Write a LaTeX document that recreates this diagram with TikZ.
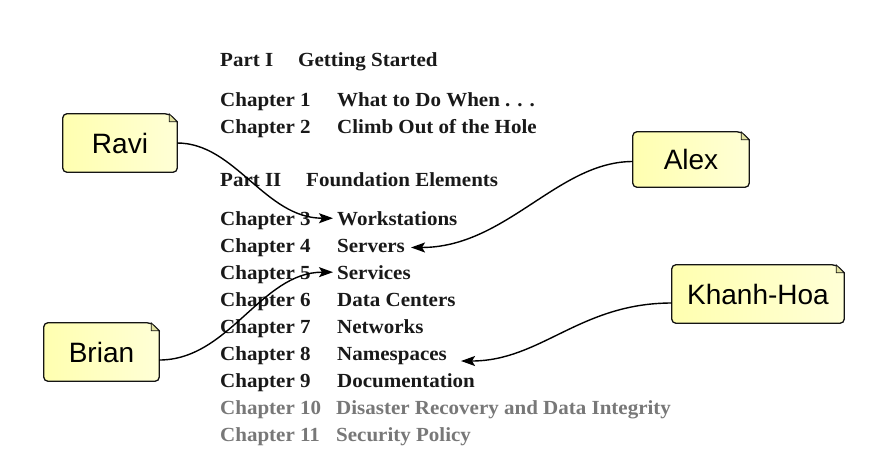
\documentclass[tikz,border=0pt]{standalone}
\usepackage{fontspec}
\setmainfont{Liberation Serif}
\newfontfamily\tocfont[FakeStretch=1.05]{Liberation Serif}
\newfontfamily\notefont{Liberation Sans}
\usetikzlibrary{arrows.meta}
\pgfdeclarelayer{background}
\pgfdeclarelayer{canvas}
\pgfsetlayers{canvas,background,main}
\definecolor{notefillA}{RGB}{255,255,176}
\definecolor{notefillB}{RGB}{255,255,214}
\definecolor{notefold}{RGB}{225,225,160}
\definecolor{notedraw}{RGB}{20,20,20}
\definecolor{tocink}{RGB}{25,25,25}
\definecolor{blurink}{RGB}{120,120,120}
\tikzset{
  toc/.style={anchor=base west, inner sep=0pt, font=\tocfont\bfseries\fontsize{20}{20}\selectfont, text=tocink},
  tocblur/.style={toc, text=blurink},
  notetext/.style={inner sep=0pt, font=\notefont\fontsize{28}{28}\selectfont},
  notebody/.style={line width=1.3pt, draw=notedraw, left color=notefillA, right color=notefillB},
  notecorner/.style={line width=0.8pt, draw=notedraw, fill=notefold},
  arr/.style={line width=1.4pt, draw=black, -{Stealth[length=14pt,width=10pt,inset=3pt]}},
}
\newcommand\stickynote[1]{%
  \begin{pgfonlayer}{background}
  \draw[notebody, rounded corners=4pt]
    (#1.west) -- (#1.north west) -- ([xshift=-8pt]#1.north east)
    [sharp corners] -- ([yshift=-8pt]#1.north east)
    [rounded corners=4pt] -- (#1.south east) -- (#1.south west) -- cycle;
  \draw[notecorner] ([xshift=-8pt]#1.north east) -- ([xshift=-8pt,yshift=-8pt]#1.north east) -- ([yshift=-8pt]#1.north east) -- cycle;
  \end{pgfonlayer}%
}
\begin{document}
\begin{tikzpicture}[x=1pt,y=-1pt]
\begin{pgfonlayer}{canvas}
\fill[white] (0,0) rectangle (875,475);
\end{pgfonlayer}
\useasboundingbox (0,0) rectangle (875,475);

% table of contents
\node[toc] (p1) at (220,66) {Part I};
\node[toc] (pt1) at (298,66) {Getting Started};
\node[toc] (c1) at (220,106) {Chapter 1};
\node[toc] (t1) at (337,106) {What to Do When . . .};
\node[toc] (c2) at (220,133) {Chapter 2};
\node[toc] (t2) at (337,133) {Climb Out of the Hole};
\node[toc] (p2) at (220,186) {Part II};
\node[toc] (pt2) at (306,186) {Foundation Elements};
\node[toc] (c3) at (220,225) {Chapter 3};
\node[toc] (t3) at (337,225) {Workstations};
\node[toc] (c4) at (220,252) {Chapter 4};
\node[toc] (t4) at (337,252) {Servers};
\node[toc] (c5) at (220,279) {Chapter 5};
\node[toc] (t5) at (337,279) {Services};
\node[toc] (c6) at (220,306) {Chapter 6};
\node[toc] (t6) at (337,306) {Data Centers};
\node[toc] (c7) at (220,333) {Chapter 7};
\node[toc] (t7) at (337,333) {Networks};
\node[toc] (c8) at (220,360) {Chapter 8};
\node[toc] (t8) at (337,360) {Namespaces};
\node[toc] (c9) at (220,387) {Chapter 9};
\node[toc] (t9) at (337,387) {Documentation};
\node[tocblur] (c10) at (220,414) {Chapter 10};
\node[tocblur] (t10) at (336,414) {Disaster Recovery and Data Integrity};
\node[tocblur] (c11) at (220,441) {Chapter 11};
\node[tocblur] (t11) at (336,441) {Security Policy};

% sticky notes
\node[notetext, minimum width=114pt, minimum height=58pt] (ravi) at (120,143) {Ravi};
\stickynote{ravi}
\node[notetext, minimum width=116pt, minimum height=55pt] (alex) at (691,159.5) {Alex};
\stickynote{alex}
\node[notetext, minimum width=172pt, minimum height=58pt] (khanh) at (758,294) {Khanh-Hoa};
\stickynote{khanh}
\node[notetext, minimum width=115pt, minimum height=58pt] (brian) at (101.5,352) {Brian};
\stickynote{brian}

% connectors
\draw[arr] (ravi.east) .. controls +(58,0) and +(-68,0) .. ([xshift=-4pt]t3.west);
\draw[arr] ([yshift=-2pt]alex.west) .. controls +(-75,0) and +(95,0) .. ([xshift=6pt,yshift=-2pt]t4.east);
\draw[arr] ([yshift=-8pt]brian.east) .. controls +(70,0) and +(-72,0) .. ([xshift=-4pt]t5.west);
\draw[arr] ([yshift=-9pt]khanh.west) .. controls +(-92,0) and +(80,0) .. ([xshift=14pt,yshift=-1pt]t8.base east);
\end{tikzpicture}
\end{document}
